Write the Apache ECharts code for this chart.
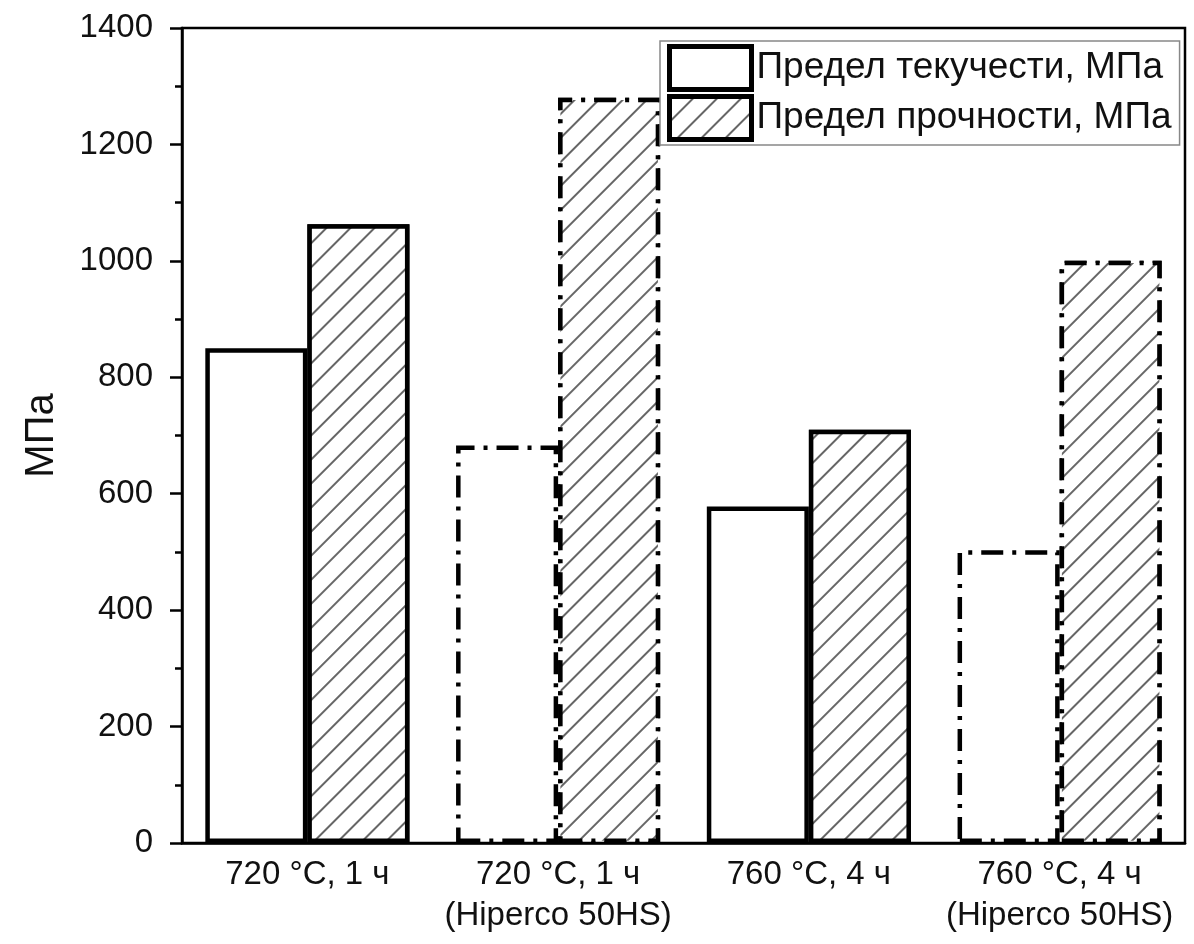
<!DOCTYPE html>
<html>
<head>
<meta charset="utf-8">
<script src="https://cdn.jsdelivr.net/npm/echarts@6/dist/echarts.min.js"></script>
<style>html,body{margin:0;padding:0;background:#fff}#c{width:1194px;height:944px}</style>
</head>
<body>
<div id="c"></div>
<script>
const categories = ['720 °C, 1 ч', '720 °C, 1 ч\n(Hiperco 50HS)', '760 °C, 4 ч', '760 °C, 4 ч\n(Hiperco 50HS)'];
const seriesNames = ['Предел текучести, МПа', 'Предел прочности, МПа'];
const yieldValues = [850, 683, 578, 503];
const strengthValues = [1063, 1280, 710, 1000];
const dashedGroups = [false, true, false, true];
const yAxisName = 'МПа';

const FONT = 'Liberation Sans, Arial, sans-serif';
const dashDot = [22, 9, 4, 9];

function items(vals) {
  return vals.map((v, i) => dashedGroups[i]
    ? { value: v, itemStyle: { borderType: dashDot } }
    : v);
}

const hatch = {
  symbol: 'rect',
  symbolSize: 1,
  dashArrayX: [[1, 0]],
  dashArrayY: [1.3, 15],
  rotation: -Math.PI / 4,
  color: '#666',
  backgroundColor: '#fff'
};

const chart = echarts.init(document.getElementById('c'), null, { renderer: 'canvas' });
chart.setOption({
  animation: false,
  backgroundColor: '#fff',
  textStyle: { fontFamily: FONT },
  grid: {
    left: 182, right: 9, top: 28, bottom: 101,
    show: true, borderColor: '#000', borderWidth: 2.5, backgroundColor: 'transparent'
  },
  legend: {
    orient: 'vertical',
    left: 660, top: 41,
    icon: 'rect',
    itemWidth: 82, itemHeight: 43,
    itemGap: 2,
    padding: [3, 8, 3, 7],
    borderColor: '#888', borderWidth: 1.5,
    backgroundColor: '#fff',
    textStyle: { fontSize: 37, color: '#111', fontFamily: FONT },
    itemStyle: { borderWidth: 5, borderColor: '#000' },
    data: seriesNames
  },
  xAxis: {
    type: 'category',
    data: categories,
    axisLine: { show: true, lineStyle: { color: '#000', width: 2.5 } },
    axisTick: { show: false },
    axisLabel: { interval: 0, fontSize: 33, color: '#111', fontFamily: FONT, margin: 11, lineHeight: 41 }
  },
  yAxis: {
    type: 'value',
    min: 0, max: 1400, interval: 200,
    name: yAxisName,
    nameLocation: 'middle',
    nameGap: 120,
    nameTextStyle: { fontSize: 40, color: '#111', fontFamily: FONT },
    splitLine: { show: false },
    axisLine: { show: true, lineStyle: { color: '#000', width: 2.5 } },
    axisTick: { show: true, inside: false, length: 12, lineStyle: { color: '#000', width: 2.5 } },
    minorTick: { show: true, splitNumber: 2, length: 7, lineStyle: { color: '#000', width: 2.5 } },
    axisLabel: { fontSize: 33, color: '#111', fontFamily: FONT, margin: 29, formatter: v => String(v) }
  },
  series: [
    {
      name: seriesNames[0],
      type: 'bar',
      data: items(yieldValues),
      barGap: '0%',
      barCategoryGap: '18.6%',
      itemStyle: { color: '#fff', borderColor: '#000', borderWidth: 4.5 }
    },
    {
      name: seriesNames[1],
      type: 'bar',
      data: items(strengthValues),
      itemStyle: { color: '#fff', borderColor: '#000', borderWidth: 4.5, decal: hatch }
    }
  ]
});
</script>
</body>
</html>
